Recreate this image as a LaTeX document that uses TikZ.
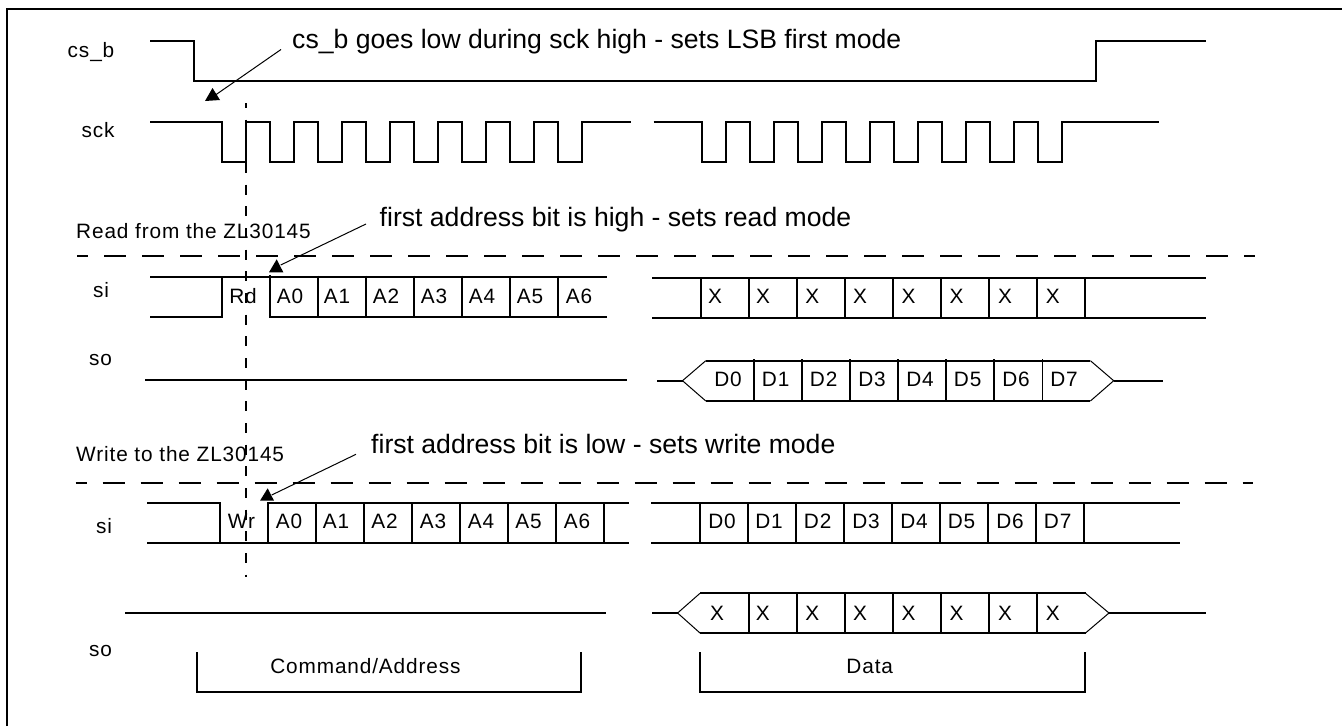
\documentclass[tikz,border=0pt]{standalone}
\usepackage{fontspec}
\setmainfont{Liberation Sans}
\newfontfamily\spaced[LetterSpace=4.2]{Liberation Sans}
\tikzset{
  wave/.style={line width=2pt,line cap=butt,line join=miter},
  cell/.style={line width=1.8pt},
  thin line/.style={line width=1pt},
  big/.style={font=\fontsize{26.6}{30}\selectfont,inner sep=0pt,anchor=base west},
  small/.style={font=\spaced\fontsize{20.8}{24}\selectfont,inner sep=0pt,anchor=base},
  captext/.style={small,anchor=base west},
  sep line/.style={line width=2pt},
  marker/.style={line width=2pt},
  head/.style={fill=black,draw=none},
}
\begin{document}
\begin{tikzpicture}[x=1pt,y=-1pt]
\useasboundingbox (0,0) rectangle (1342,726);
% frame (top and left only visible)
\draw[line width=2.4pt] (7,726) -- (7,9) -- (1342,9);

% signal names
\node[small] (lcs) at (91,57) {cs\_b};
\node[small] (lsck) at (98,137) {sck};
\node[small] (lsi1) at (101,297.7) {si};
\node[small] (lso1) at (100.5,365) {so};
\node[small] (lsi2) at (104,533.3) {si};
\node[small] (lso2) at (100.5,656) {so};
\node[captext] (rd) at (76,238.3) {Read from the ZL30145};
\node[captext] (wr) at (76,461.7) {Write to the ZL30145};

% annotations
\node[big] (n1) at (292,48.5) {cs\_b goes low during sck high - sets LSB first mode};
\node[big] (n2) at (379.5,226) {first address bit is high - sets read mode};
\node[big] (n3) at (371,453.5) {first address bit is low - sets write mode};

% cs_b
\draw[wave] (150,41) -- (194,41) -- (194,81) -- (1096,81) -- (1096,41) -- (1206,41);

% sck
\draw[wave] (150,122) -- (222,122)
  \foreach \i in {0,...,7} { -- ({222+48*\i},162) -- ({246+48*\i},162) -- ({246+48*\i},122) -- ({270+48*\i},122) }
  ;
\draw[wave] (582,122) -- (631,122);
\draw[wave] (653.5,122) -- (701.5,122)
  \foreach \i in {0,...,7} { -- ({701.5+48*\i},162) -- ({725.5+48*\i},162) -- ({725.5+48*\i},122) -- ({749.5+48*\i},122) }
  ;
\draw[wave] (1062,122) -- (1158.5,122);

% separators
\draw[sep line,dash pattern=on 22pt off 16pt,dash phase=11pt] (77,255.7) -- (1254.7,255.7);
\draw[sep line,dash pattern=on 22pt off 16pt,dash phase=11pt] (75.6,483) -- (1252.5,483);

% si, read
\draw[wave] (150,277) -- (607,277);
\draw[wave] (150,317) -- (222,317) -- (222,277);
\draw[wave] (607,317) -- (270,317) -- (270,275);
\foreach \x in {318,366,...,558} \draw[cell] (\x,275.5) -- (\x,317);
\foreach \t/\x in {Rd/243,A0/290,A1/337,A2/386,A3/434,A4/482,A5/530,A6/579}
  \node[small] (r\t) at (\x,303) {\t};
% so, read
\draw[wave] (145.3,380) -- (626.5,380);

% si, read, data
\draw[wave] (652,278) -- (1205.5,278);
\draw[wave] (652,318) -- (1205.5,318);
\foreach \x in {701,749,797,845,893,941,989,1037,1085} \draw[cell] (\x,278) -- (\x,318);
\foreach \x in {715,763,812.4,860,908.6,956.5,1005,1052.8}
  \node[small] (rx\x) at (\x,303.5) {X};

% so, read, data
\draw[wave] (657,380.7) -- (682.5,380.7);
\draw[thin line] (682.5,380.7) -- (705.8,360.7);
\draw[thin line] (682.5,380.7) -- (705.8,401);
\draw[wave] (705.8,360.7) -- (1090.4,360.7);
\draw[wave] (705.8,401) -- (1090.4,401);
\draw[thin line] (1090.4,360.7) -- (1113.7,380.7) -- (1090.4,401);
\draw[wave] (1113.7,380.7) -- (1162.5,380.7);
\foreach \x in {754,802,850,898,946,994,1042.5} \draw[cell] (\x,359) -- (\x,401);
\foreach \t/\x in {D0/728,D1/775.6,D2/823.6,D3/872,D4/920,D5/967.7,D6/1016,D7/1064}
  \node[small] (rs\t) at (\x,386.5) {\t};

% si, write
\draw[wave] (147.4,502.7) -- (220,502.7) -- (220,542.7);
\draw[wave] (147.4,542.7) -- (629,542.7);
\draw[wave] (268,542.7) -- (268,502.7) -- (629,502.7);
\foreach \x in {316,364,412,460,508,556,604} \draw[cell] (\x,502.7) -- (\x,542.7);
\foreach \t/\x in {Wr/241.5,A0/289,A1/336,A2/384.6,A3/433,A4/481,A5/528.6,A6/577}
  \node[small] (w\t) at (\x,528.5) {\t};
% so, write
\draw[wave] (125,613) -- (606,613);

% si, write, data
\draw[wave] (651,502.7) -- (1180.4,502.7);
\draw[wave] (651,542.7) -- (1180.4,542.7);
\foreach \x in {700,748,796,844,892,940,988,1036,1084} \draw[cell] (\x,502.7) -- (\x,542.7);
\foreach \t/\x in {D0/722,D1/769,D2/817.7,D3/866,D4/914,D5/961.5,D6/1010,D7/1057.7}
  \node[small] (ws\t) at (\x,528.5) {\t};

% so, write, data
\draw[wave] (652,613) -- (677.6,613);
\draw[thin line] (677.6,613) -- (700,593.3);
\draw[thin line] (677.6,613) -- (700,633);
\draw[wave] (700,593.3) -- (1085.5,593.3);
\draw[wave] (700,633) -- (1085.5,633);
\draw[thin line] (1085.5,593.3) -- (1109,613) -- (1085.5,633);
\draw[wave] (1109,613) -- (1205.5,613);
\foreach \x in {748.8,796.7,845,893,941,988.8,1037} \draw[cell] (\x,593.3) -- (\x,633);
\foreach \x in {717,762.7,812.4,860,908.6,956.5,1005,1052.8}
  \node[small] (wx\x) at (\x,620) {X};

% brackets
\draw[wave] (197,652) -- (197,691.7) -- (581,691.7) -- (581,652);
\node[small] (cmd) at (365.4,673) {Command/Address};
\draw[wave] (700.4,652) -- (700.4,691.7) -- (1085,691.7) -- (1085,652);
\node[small] (dat) at (869.7,673) {Data};

% sampling marker
\draw[marker,dash pattern=on 10pt off 11.67pt,dash phase=5pt] (246,103) -- (246,577);

% arrows
\coordinate (a1s) at (281,49.5);
\coordinate (a1e) at (214,96);
\coordinate (a2s) at (366,224);
\coordinate (a2e) at (280.7,265);
\coordinate (a3s) at (356,454.3);
\coordinate (a3e) at (271.7,495);
\draw[thin line] (a1s) -- (a1e);
\draw[thin line] (a2s) -- (a2e);
\draw[thin line] (a3s) -- (a3e);
\fill[head] (205,101) -- (220,100) -- (212.5,88) -- cycle;
\fill[head] (269,272.3) -- (283.3,272.3) -- (276.7,259.3) -- cycle;
\fill[head] (260,500.7) -- (274,500.7) -- (267.7,488.3) -- cycle;
\end{tikzpicture}
\end{document}
